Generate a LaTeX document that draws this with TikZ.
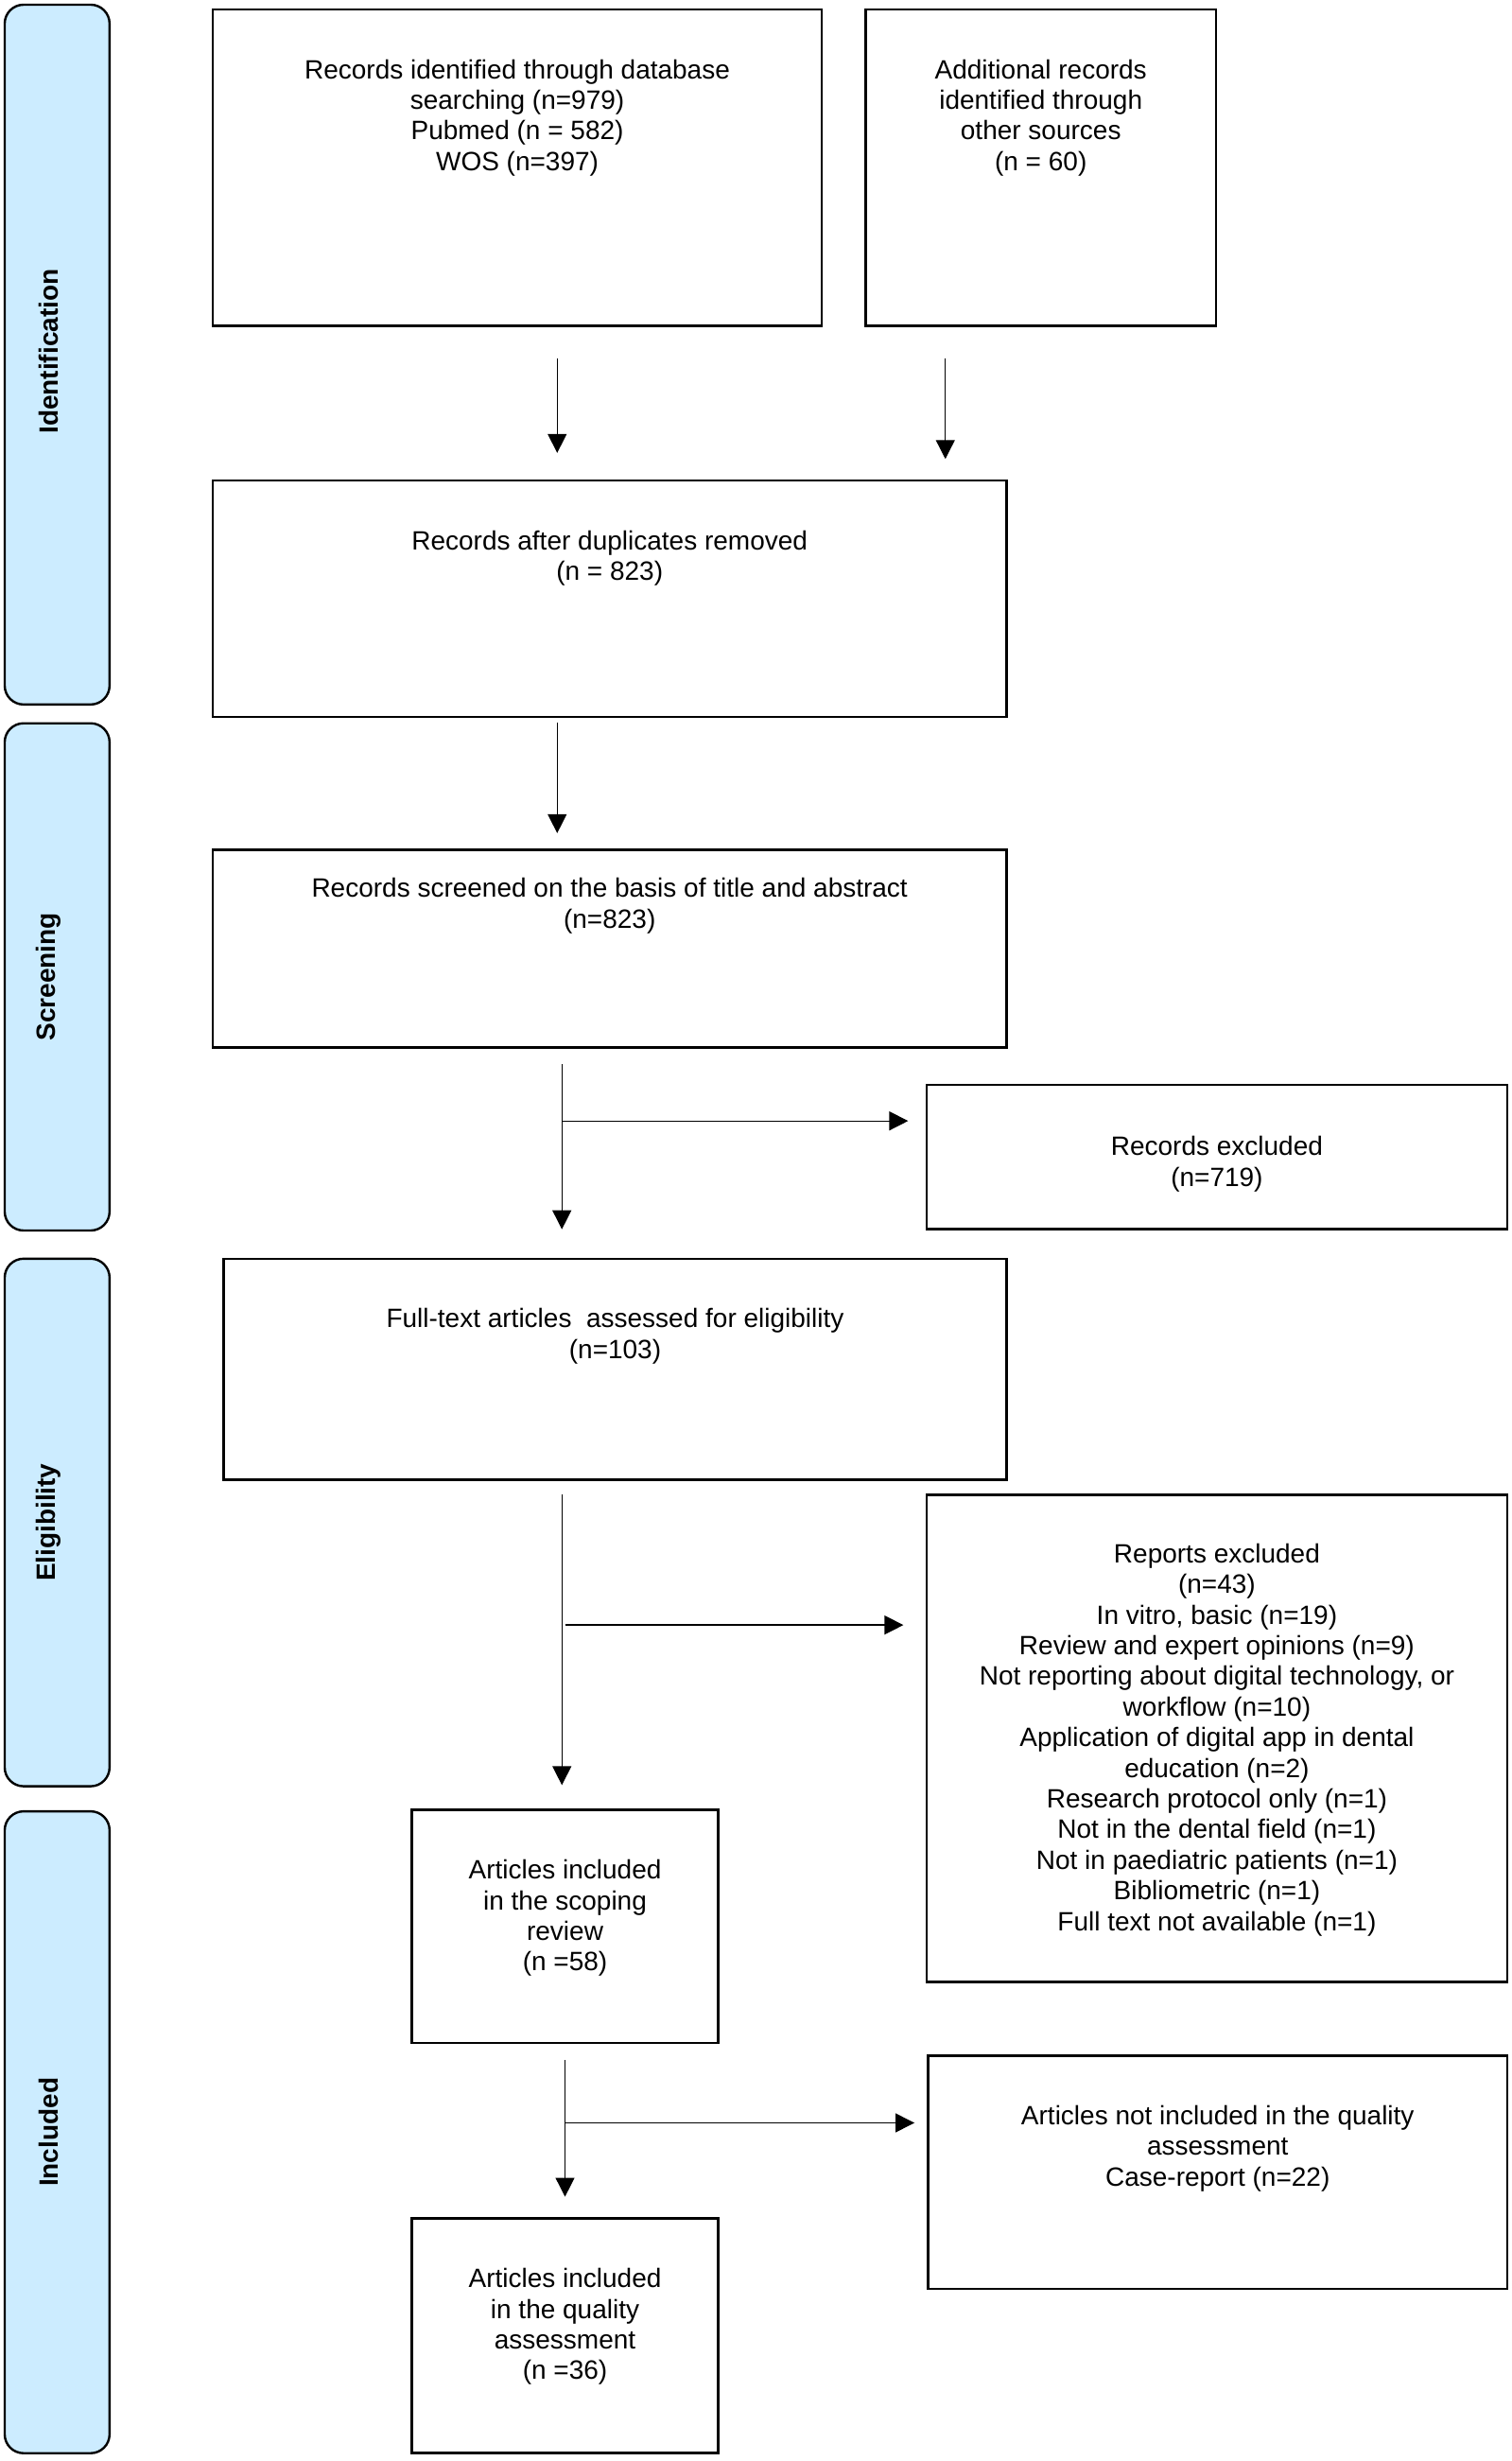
\documentclass[tikz,border=0pt]{standalone}
\usepackage{fontspec}
\setmainfont{Liberation Sans}
\usetikzlibrary{arrows.meta,fit}
\definecolor{phasefill}{RGB}{204,236,255}
\tikzset{
  box/.style={draw=black, line width=1.3pt, inner sep=0pt, fit={#1}},
  phase/.style={draw=black, line width=1.2pt, fill=phasefill, rounded corners=10pt, inner sep=0pt, fit={#1}},
  phasetxt/.style={rotate=90, font={\fontsize{14}{16}\selectfont\bfseries}, inner sep=0pt},
  txt/.style={anchor=north, align=center, inner sep=0pt, font={\fontsize{14}{16.2}\selectfont}},
  arr/.style={line width=0.65pt, -{Triangle[length=10pt,width=10pt]}},
  ln/.style={line width=0.65pt}
}
\begin{document}
\begin{tikzpicture}[x=0.8276pt,y=-0.8276pt]
\useasboundingbox (0,0) rectangle (966,1572);
% phases
\node[phase={(3,3)(70,450)}] (p1) {};
\node[phase={(3,462)(70,786)}] (p2) {};
\node[phase={(3,804)(70,1141)}] (p3) {};
\node[phase={(3,1157)(70,1567)}] (p4) {};
\node[phasetxt] (p1t) at (31,224.5) {Identification};
\node[phasetxt] (p2t) at (31,624) {Screening};
\node[phasetxt] (p3t) at (31,972.5) {Eligibility};
\node[phasetxt] (p4t) at (31,1362) {Included};
% boxes
\node[box={(136,6)(525,208)}] (b1) {};
\node[box={(553,6)(777,208)}] (b2) {};
\node[box={(136,307)(643,458)}] (b3) {};
\node[box={(136,543)(643,669)}] (b4) {};
\node[box={(592,693)(963,785)}] (b5) {};
\node[box={(143,804)(643,945)}] (b6) {};
\node[box={(592,955)(963,1266)}] (b7) {};
\node[box={(263,1156)(459,1305)}] (b8) {};
\node[box={(593,1313)(963,1462)}] (b9) {};
\node[box={(263,1417)(459,1567)}] (b10) {};
% texts
\node[txt] (t1) at (330.5,37.7) {Records identified through database\\searching (n=979)\\Pubmed (n = 582)\\WOS (n=397)};
\node[txt] (t2) at (665,37.7) {Additional records\\identified through\\other sources\\(n = 60)};
\node[txt] (t3) at (389.5,338.7) {Records after duplicates removed\\(n = 823)};
\node[txt] (t4) at (389.5,560.7) {Records screened on the basis of title and abstract\\(n=823)};
\node[txt] (t5) at (777.5,725.7) {Records excluded\\(n=719)};
\node[txt] (t6) at (393,835.7) {Full-text articles\ \ assessed for eligibility\\(n=103)};
\node[txt] (t7) at (777.5,985.7) {Reports excluded\\(n=43)\\In vitro, basic (n=19)\\Review and expert opinions (n=9)\\Not reporting about digital technology, or\\workflow (n=10)\\Application of digital app in dental\\education (n=2)\\Research protocol only (n=1)\\Not in the dental field (n=1)\\Not in paediatric patients (n=1)\\Bibliometric (n=1)\\Full text not available (n=1)};
\node[txt] (t8) at (361,1187.7) {Articles included\\in the scoping\\review\\(n =58)};
\node[txt] (t9) at (778,1344.7) {Articles not included in the quality\\assessment\\Case-report (n=22)};
\node[txt] (t10) at (361,1448.7) {Articles included\\in the quality\\assessment\\(n =36)};
% connector x positions and junctions
\coordinate (c1) at (356,0);
\coordinate (c2) at (604,0);
\coordinate (c3) at (356,0);
\coordinate (c4) at (359,0);
\coordinate (c5) at (359,0);
\coordinate (c6) at (361,0);
\coordinate (j1) at (359,716);
\coordinate (j2) at (361,1038);
\coordinate (j3) at (361,1356);
% arrows
\draw[arr, shorten <=16.5pt, shorten >=14pt] (b1.south -| c1) -- (b3.north -| c1);
\draw[arr, shorten <=16.5pt, shorten >=10.8pt] (b2.south -| c2) -- (b3.north -| c2);
\draw[arr, shorten <=2.5pt, shorten >=8.3pt] (b3.south -| c3) -- (b4.north -| c3);
\draw[arr, shorten <=8.3pt, shorten >=14.9pt] (b4.south -| c4) -- (b6.north -| c4);
\draw[arr, shorten >=9.1pt] (j1) -- (j1 -| b5.west);
\draw[arr, shorten <=7.4pt, shorten >=12.4pt] (b6.south -| c5) -- (b8.north -| c5);
\draw[arr, shorten >=11.6pt] (j2) -- (j2 -| b7.west);
\draw[arr, shorten <=8.3pt, shorten >=10.8pt] (b8.south -| c6) -- (b10.north -| c6);
\draw[arr, shorten >=6.6pt] (j3) -- (j3 -| b9.west);
\end{tikzpicture}
\end{document}
